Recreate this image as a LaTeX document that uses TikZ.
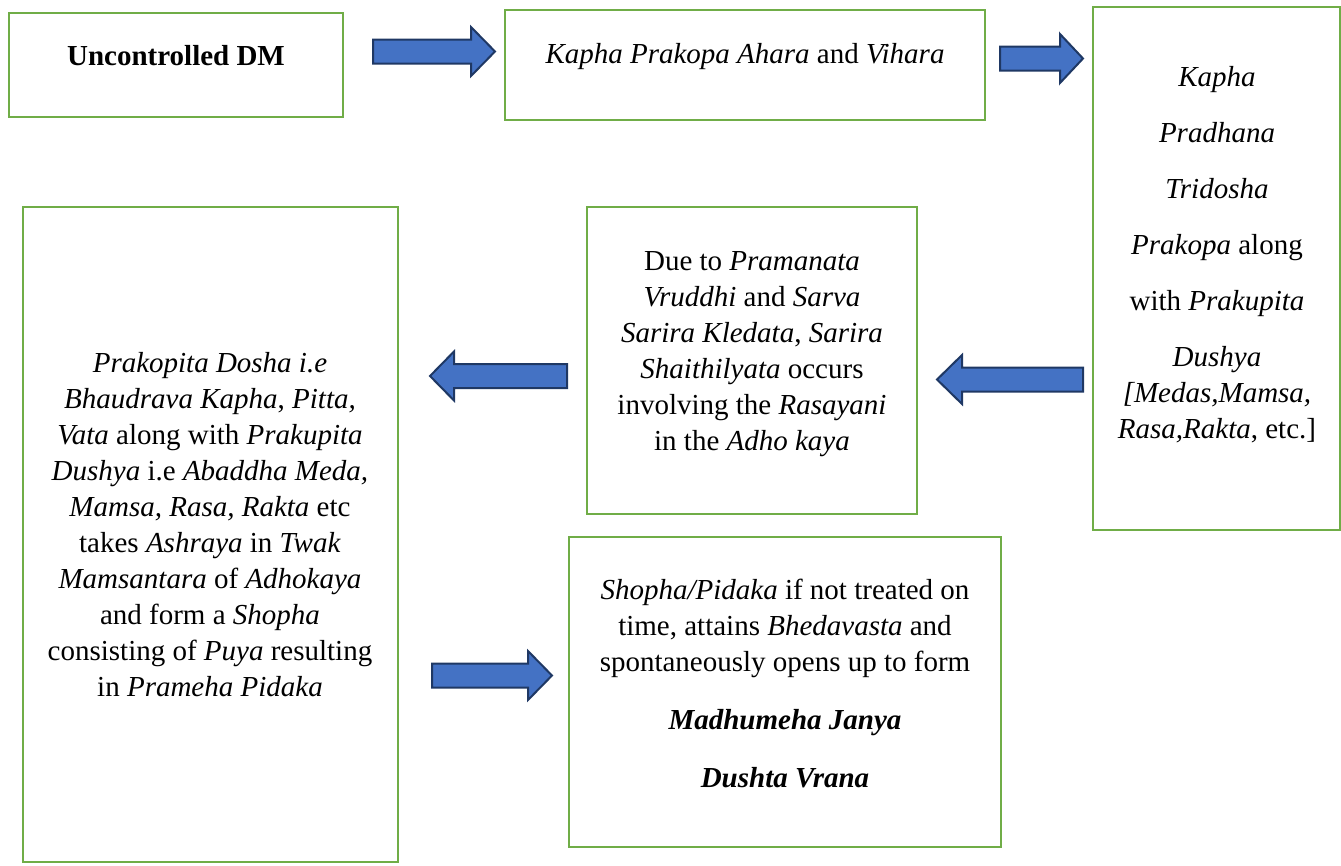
\documentclass[tikz,border=0pt]{standalone}
\usepackage{fontspec}
\setmainfont{Liberation Serif}
\usetikzlibrary{positioning}
\definecolor{boxgreen}{HTML}{70AD47}
\definecolor{arrblue}{HTML}{4472C4}
\definecolor{arrline}{HTML}{1F3864}
\tikzstyle{stage}=[draw=boxgreen,line width=2pt,inner sep=0pt]
\tikzstyle{txt}=[align=center,font=\fontsize{29}{36}\selectfont,inner sep=0pt]
\tikzstyle{blockarr}=[fill=arrblue,draw=arrline,line width=2pt,line join=miter]

\begin{document}
\begin{tikzpicture}[x=1pt,y=-1pt]
\useasboundingbox (0,0) rectangle (1341,865);
% boxes: name/left/top/right/bottom
\foreach \n/\xa/\ya/\xb/\yb in {dm/9/13/343/117, ahara/505/10/985/120, tridosha/1093/7/1340/530, kleda/587/207/917/514, pidaka/23/207/398/862, vrana/569/537/1001/847}
  \node[stage,minimum width={(\xb-\xa)*1pt},minimum height={(\yb-\ya)*1pt}] (\n) at ({(\xa+\xb)/2},{(\ya+\yb)/2}) {};
% texts
\node[txt] (dmtext) at (176,56) {\textbf{Uncontrolled DM}};
\node[txt] (aharatext) at (745,57) {\textit{Kapha Prakopa Ahara} and \textit{Vihara}};
\node[txt] (tridoshatext) at (1217,255) {\textit{Kapha}\\[20pt] \textit{Pradhana}\\[20pt] \textit{Tridosha}\\[20pt] \textit{Prakopa} along\\[20pt] with \textit{Prakupita}\\[20pt] \textit{Dushya}\\ \textit{[Medas,Mamsa,}\\ \textit{Rasa,Rakta}, etc.]};
\node[txt] (kledatext) at (752,354) {Due to \textit{Pramanata}\\ \textit{Vruddhi} and \textit{Sarva}\\ \textit{Sarira Kledata}, \textit{Sarira}\\ \textit{Shaithilyata} occurs\\ involving the \textit{Rasayani}\\ in the \textit{Adho kaya}};
\node[txt] (pidakatext) at (210,525) {\textit{Prakopita Dosha i.e}\\ \textit{Bhaudrava Kapha}, \textit{Pitta,}\\ \textit{Vata} along with \textit{Prakupita}\\ \textit{Dushya} i.e \textit{Abaddha Meda,}\\ \textit{Mamsa, Rasa, Rakta} etc\\ takes \textit{Ashraya} in \textit{Twak}\\ \textit{Mamsantara} of \textit{Adhokaya}\\ and form a \textit{Shopha}\\ consisting of \textit{Puya} resulting\\ in \textit{Prameha Pidaka}};
\node[txt] (vranatext) at (785,683) {\textit{Shopha/Pidaka} if not treated on\\ time, attains \textit{Bhedavasta} and\\ spontaneously opens up to form\\[22pt] \textbf{\textit{Madhumeha Janya}}\\[22pt] \textbf{\textit{Dushta Vrana}}};
% block arrows: tail/head base/tip/mid y
\foreach \tl/\bs/\tp/\y in {373/471/495/51.5, 1000/1060/1083/58.5, 1083/962/937/379.5, 567/454/430/376, 432/528/552/675.5}
  \draw[blockarr] (\tl,\y-12) -- (\bs,\y-12) -- (\bs,\y-24.5) -- (\tp,\y) -- (\bs,\y+24.5) -- (\bs,\y+12) -- (\tl,\y+12) -- cycle;
\end{tikzpicture}
\end{document}
